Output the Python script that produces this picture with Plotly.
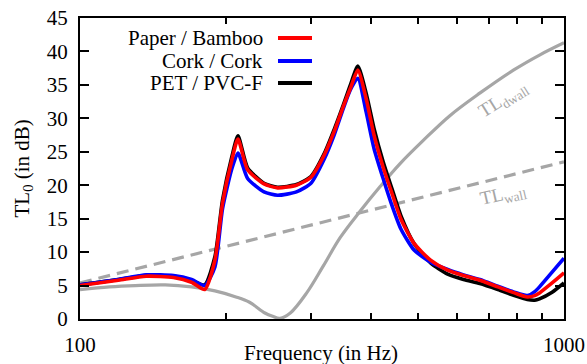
import plotly.graph_objects as go

# ---------------- data ----------------
freq = [100, 120, 137, 156, 170, 181, 190, 197, 206, 212, 222, 240, 256, 280, 300,
        320, 335, 350, 362, 375, 390, 405, 423, 441, 460, 490, 530, 575, 620, 670,
        730, 790, 840, 870, 890, 945, 1000]

paper_bamboo = [5.0, 5.8, 6.4, 6.2, 5.5, 4.4, 8.8, 17.3, 23.8, 26.9, 22.3, 20.2, 19.6, 20.0, 21.2,
                24.6, 28.0, 31.8, 34.5, 37.2, 33.0, 27.5, 22.7, 18.8, 15.0, 11.3, 8.8, 7.3, 6.5, 5.8,
                4.8, 3.9, 3.3, 3.5, 3.9, 5.4, 6.9]

cork_cork = [5.1, 5.9, 6.6, 6.5, 5.9, 5.0, 7.8, 16.5, 22.5, 24.8, 21.0, 19.0, 18.5, 19.0, 20.3,
             24.0, 27.5, 31.5, 34.3, 36.0, 31.0, 25.5, 21.0, 17.0, 13.5, 10.3, 8.5, 7.4, 6.6, 5.9,
             4.9, 4.0, 3.5, 4.1, 4.8, 7.0, 9.1]

pet_pvcf = [5.1, 5.9, 6.5, 6.4, 5.8, 5.1, 9.3, 17.8, 24.3, 27.4, 22.6, 20.3, 19.7, 20.1, 21.3,
            24.8, 28.3, 32.0, 35.0, 37.8, 33.8, 28.5, 23.5, 19.5, 15.5, 11.3, 8.4, 6.7, 5.9, 5.3,
            4.4, 3.5, 2.9, 2.8, 3.0, 4.0, 5.4]

dwall_freq = [100, 115, 130, 150, 170, 190, 210, 224, 241, 250, 259, 272, 294, 318, 345, 379,
              417, 458, 512, 581, 671, 786, 892, 1000]
tl_dwall = [4.4, 4.8, 5.0, 5.1, 4.8, 4.2, 3.3, 2.5, 0.9, 0.4, 0.1, 0.9, 3.9, 7.9, 12.2, 16.1,
            19.8, 23.2, 26.7, 30.4, 33.8, 37.2, 39.5, 41.3]

wall_freq = [100, 1000]
tl_wall = [5.4, 23.5]

series_names = ["Paper / Bamboo", "Cork / Cork", "PET / PVC-F"]
series_colors = ["#ff0000", "#0000ff", "#000000"]

yticks = [0, 5, 10, 15, 20, 25, 30, 35, 40, 45]
xticks = [100, 1000]
xminor = [200, 300, 400, 500, 600, 700, 800, 900]

FONT = "Liberation Serif"
GRAY = "#a6a6a6"

fig = go.Figure()

fig.add_trace(go.Scatter(x=dwall_freq, y=tl_dwall, mode="lines",
                         line=dict(color=GRAY, width=3.2, shape="spline", smoothing=1.0),
                         showlegend=False, hoverinfo="skip"))
fig.add_trace(go.Scatter(x=wall_freq, y=tl_wall, mode="lines",
                         line=dict(color=GRAY, width=3.2, dash="12px,7px"),
                         showlegend=False, hoverinfo="skip"))

series_vals = [paper_bamboo, cork_cork, pet_pvcf]
for idx in [2, 1, 0]:
    fig.add_trace(go.Scatter(x=freq, y=series_vals[idx], mode="lines",
                             line=dict(color=series_colors[idx], width=3.6, shape="spline", smoothing=0.6),
                             name=series_names[idx], showlegend=False))

# manual legend (labels right-aligned, sample to the right)
def px_to_paper(px, py):
    return (px - 80) / 484.0, (319 - py) / 301.0

annotations = []
shapes = []
rows_py = [38, 61, 83]
for name, color, py in zip(series_names, series_colors, rows_py):
    xr, yr = px_to_paper(265, py)
    annotations.append(dict(x=xr, y=yr, xref="paper", yref="paper", text=name,
                            showarrow=False, xanchor="right", yanchor="middle",
                            font=dict(family=FONT, size=21, color="black")))
    x0, _ = px_to_paper(278, py)
    x1, _ = px_to_paper(312, py)
    shapes.append(dict(type="line", xref="paper", yref="paper", x0=x0, x1=x1, y0=yr, y1=yr,
                       line=dict(color=color, width=4)))

# axis titles
annotations.append(dict(x=px_to_paper(321, 0)[0], y=px_to_paper(0, 353)[1], xref="paper", yref="paper",
                        text="Frequency (in Hz)", showarrow=False, xanchor="center", yanchor="middle",
                        font=dict(family=FONT, size=21, color="black")))
annotations.append(dict(x=px_to_paper(22, 0)[0], y=0.5, xref="paper", yref="paper",
                        text="TL<sub>0</sub> (in dB)", showarrow=False, xanchor="center", yanchor="middle",
                        textangle=-90, font=dict(family=FONT, size=21, color="black")))

# curve labels
annotations.append(dict(x=px_to_paper(503, 0)[0], y=px_to_paper(0, 100)[1], xref="paper", yref="paper",
                        text="TL<sub>dwall</sub>", showarrow=False, textangle=-32,
                        xanchor="center", yanchor="middle",
                        font=dict(family=FONT, size=19, color=GRAY)))
annotations.append(dict(x=px_to_paper(503, 0)[0], y=px_to_paper(0, 195)[1], xref="paper", yref="paper",
                        text="TL<sub>wall</sub>", showarrow=False, textangle=-13,
                        xanchor="center", yanchor="middle",
                        font=dict(family=FONT, size=19, color=GRAY)))

fig.update_layout(
    width=587, height=364,
    margin=dict(l=80, r=23, t=18, b=45, autoexpand=False),
    paper_bgcolor="white", plot_bgcolor="white",
    font=dict(family=FONT, size=20, color="black"),
    annotations=annotations, shapes=shapes,
    showlegend=False,
)

fig.update_xaxes(type="log", range=[2, 3], tickvals=xticks, ticktext=[str(v) for v in xticks],
                 ticks="inside", ticklen=6, tickwidth=1.5, tickcolor="black",
                 showline=True, linewidth=2, linecolor="black", mirror="allticks",
                 showgrid=False, zeroline=False, ticklabelstandoff=6, automargin=False,
                 tickfont=dict(family=FONT, size=21, color="black"),
                 minor=dict(tickvals=xminor, ticks="inside", ticklen=6, tickwidth=1.5,
                            tickcolor="black", showgrid=False))
fig.update_yaxes(range=[0, 45], tickvals=yticks,
                 ticks="inside", ticklen=9, tickwidth=1.5, tickcolor="black",
                 showline=True, linewidth=2, linecolor="black", mirror="allticks",
                 showgrid=False, zeroline=False, ticklabelstandoff=6, automargin=False,
                 tickfont=dict(family=FONT, size=21, color="black"))

fig.write_html("out.html")
